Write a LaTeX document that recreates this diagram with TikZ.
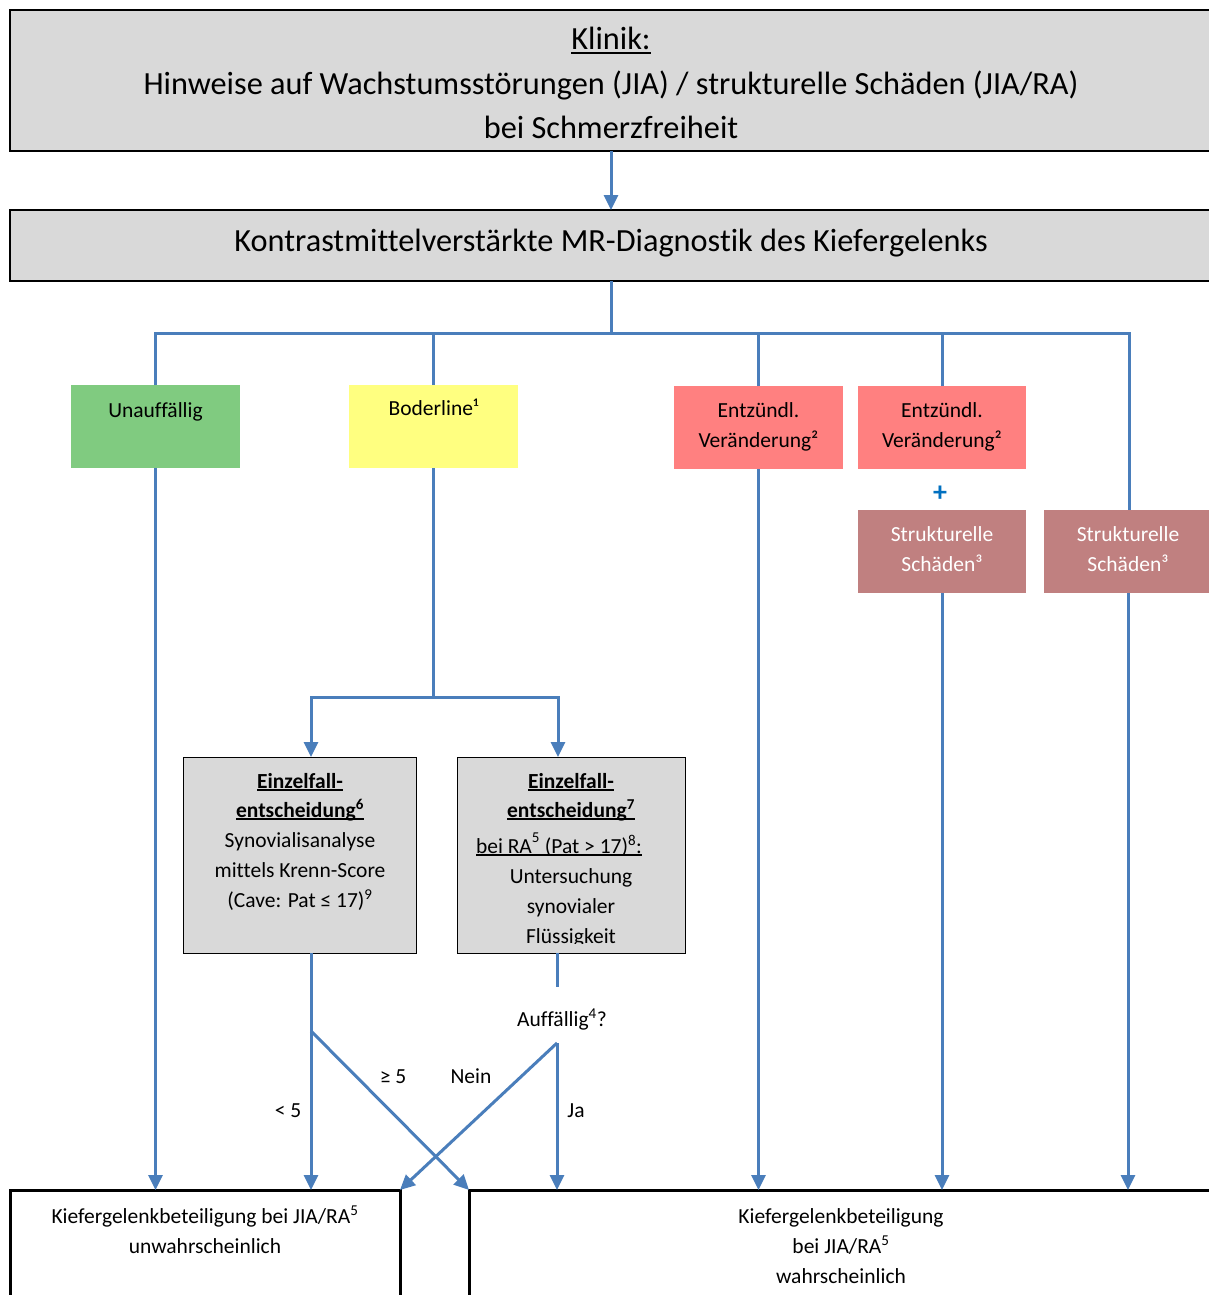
\documentclass[tikz,border=0pt]{standalone}
\usepackage{fontspec}
\setmainfont{Carlito}[Ligatures=NoCommon]
\usetikzlibrary{arrows.meta}
\definecolor{lgray}{RGB}{217,217,217}
\definecolor{gboxc}{RGB}{128,203,128}
\definecolor{yboxc}{RGB}{255,255,128}
\definecolor{pboxc}{RGB}{255,128,128}
\definecolor{rboxc}{RGB}{192,128,128}
\definecolor{conn}{RGB}{74,126,187}
\definecolor{plusblue}{RGB}{0,112,192}
\newcommand\ulin[3]{\setbox0\hbox{#3}\rlap{\rule[-#1]{\wd0}{#2}}\box0}
\begin{document}
\begin{tikzpicture}[x=1pt,y=-1pt,
  flow/.style={draw=conn, line width=3pt},
  arr/.style={flow, -{Triangle[length=15pt,width=14pt]}},
  box/.style={rectangle, inner sep=0pt, outer sep=0pt},
  graybox/.style={box, fill=lgray, draw=black, line width=1.2pt},
  big/.style={font=\fontsize{32.3}{38}\selectfont, anchor=base, inner sep=0pt},
  sm/.style={font=\fontsize{21.5}{25}\selectfont, anchor=base, inner sep=0pt},
  smb/.style={font=\bfseries\fontsize{21.5}{25}\selectfont, anchor=base, inner sep=0pt},
]
\clip (0,0) rectangle (1209,1295);
\fill[white] (0,0) rectangle (1209,1295);

% top boxes
\node[graybox, minimum width=1210, minimum height=141] (top) at (615,80.5) {};
\node[big] at (611,50) {\ulin{4pt}{2.2pt}{Klinik:}};
\node[big] at (611,95) {Hinweise auf Wachstumsstörungen (JIA) / strukturelle Schäden (JIA/RA)};
\node[big] at (611,139) {bei Schmerzfreiheit};
\node[graybox, minimum width=1210, minimum height=71] (mr) at (615,245.5) {};
\node[big] at (611,251) {Kontrastmittelverstärkte MR-Diagnostik des Kiefergelenks};

\coordinate (j) at (611,333);
\draw[arr] (top.south -| j) -- (mr.north -| j);
\draw[flow] (mr.south -| j) -- (j);

% category boxes
\node[box, fill=gboxc, minimum width=169, minimum height=83] (un) at (155.5,426.5) {};
\node[box, fill=yboxc, minimum width=169, minimum height=83] (bo) at (433.5,426.5) {};
\node[box, fill=pboxc, minimum width=169, minimum height=83] (en1) at (758.5,427.5) {};
\node[box, fill=pboxc, minimum width=168, minimum height=83] (en2) at (942,427.5) {};
\node[box, fill=rboxc, minimum width=168, minimum height=83] (st1) at (942,551.5) {};
\node[box, fill=rboxc, minimum width=170, minimum height=83] (st2) at (1129,551.5) {};

\node[sm] at (155.5,417) {Unauffällig};
\node[sm] at (433.5,415) {Boderline¹};
\node[sm] at (758.5,417) {Entzündl.};
\node[sm] at (758.5,447) {Veränderung²};
\node[sm] at (942,417) {Entzündl.};
\node[sm] at (942,447) {Veränderung²};
\node[font=\bfseries\fontsize{28}{30}\selectfont, text=plusblue, inner sep=0pt] at (940,494) {+};
\node[sm, text=white] at (942,541) {Strukturelle};
\node[sm, text=white] at (942,571) {Schäden³};
\node[sm, text=white] at (1128,541) {Strukturelle};
\node[sm, text=white] at (1128,571) {Schäden³};

% distribution bar
\draw[flow] (un.north) |- (j);
\draw[flow] (j) -| (st2.north);
\draw[flow] (bo.north) -- (bo.north |- j);
\draw[flow] (en1.north) -- (en1.north |- j);
\draw[flow] (en2.north) -- (en2.north |- j);

% bottom boxes
\node[box, draw=black, line width=3pt, minimum width=390, minimum height=200] (lb) at (205,1290) {};
\node[box, draw=black, line width=3pt, minimum width=751, minimum height=200] (rb) at (844.5,1290) {};
\node[sm] at (205,1223) {Kiefergelenkbeteiligung bei JIA/RA\textsuperscript{5}};
\node[sm] at (205,1253) {unwahrscheinlich};
\node[sm] at (841,1223) {Kiefergelenkbeteiligung};
\node[sm] at (841,1253) {bei JIA/RA\textsuperscript{5}};
\node[sm] at (841,1283) {wahrscheinlich};

% long verticals
\draw[arr] (un.south) -- (un.south |- lb.north);
\draw[arr] (en1.south) -- (en1.south |- rb.north);
\draw[arr] (st1.south) -- (st1.south |- rb.north);
\coordinate (c5) at (1128,0);
\draw[arr] (st2.south -| c5) -- (c5 |- rb.north);

% Einzelfall boxes
\node[graybox, line width=0.8pt, minimum width=233, minimum height=196] (ez1) at (299.5,855) {};
\node[graybox, line width=0.8pt, minimum width=228, minimum height=196] (ez2) at (571.5,855) {};
\coordinate (jb) at (433.5,697);
\coordinate (a1) at (311,697);
\coordinate (a2) at (558,697);
\draw[flow] (bo.south) -- (jb);
\draw[arr] (jb) -| (ez1.north -| a1);
\draw[arr] (jb) -| (ez2.north -| a2);

\node[smb] at (300,788) {\ulin{2.5pt}{1.4pt}{Einzelfall-}};
\node[smb] at (300,817) {\ulin{2.5pt}{1.4pt}{entscheidung\textsuperscript{6}}};
\node[sm] at (300,847) {Synovialisanalyse};
\node[sm] at (300,877) {mittels Krenn-Score};
\node[sm] at (300,907) {(Cave: Pat ≤ 17)\textsuperscript{9}};

\node[smb] at (571,788) {\ulin{2.5pt}{1.4pt}{Einzelfall-}};
\node[smb] at (571,817) {\ulin{2.5pt}{1.4pt}{entscheidung\textsuperscript{7}}};
\node[sm] at (559,853) {\ulin{2.5pt}{1.2pt}{bei RA\raisebox{3pt}{\textsuperscript{5}}\ (Pat > 17)\textsuperscript{8}:}};
\node[sm] at (571,883) {Untersuchung};
\node[sm] at (571,913) {synovialer};
\begin{scope}
\clip (457,920) rectangle (686,943);
\node[sm] at (571,943) {Flüssigkeit};
\end{scope}

% lower decision lines
\coordinate (d1) at (311,1031);
\draw[flow] (ez1.south -| d1) -- (d1);
\draw[arr] (d1) -- (d1 |- lb.north);
\draw[arr] (d1) -- (rb.north west);

\coordinate (s2) at (557,987);
\coordinate (d2) at (557,1043);
\draw[flow] (ez2.south -| s2) -- (s2);
\node[sm] (auf) at (562,1026) {Auffällig\textsuperscript{4}?};
\draw[arr] (d2) -- (d2 |- rb.north);
\draw[arr] (d2) -- (lb.north east);

\node[sm] at (393,1083) {≥ 5};
\node[sm] at (471,1083) {Nein};
\node[sm] at (288,1117) {< 5};
\node[sm] at (576,1117) {Ja};
\end{tikzpicture}
\end{document}
